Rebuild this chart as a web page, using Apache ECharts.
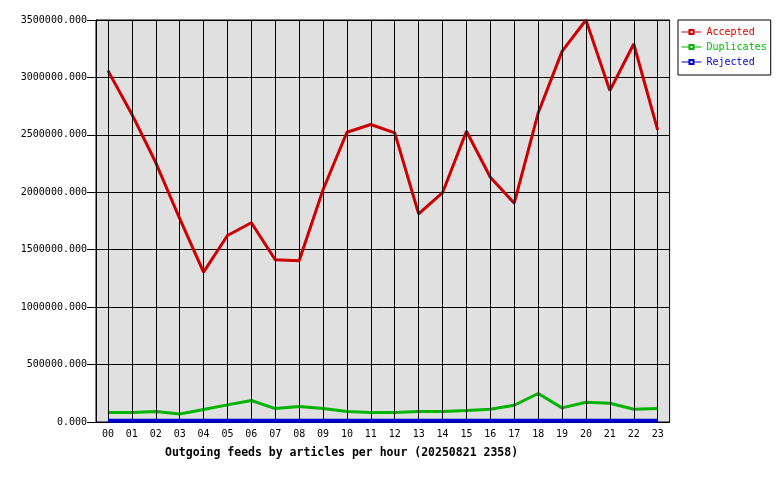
<!DOCTYPE html>
<html>
<head>
<meta charset="utf-8">
<script src="https://cdn.jsdelivr.net/npm/echarts@6/dist/echarts.min.js"></script>
<style>html,body{margin:0;padding:0;background:#fff}#c{width:780px;height:480px}</style>
</head>
<body>
<div id="c"></div>
<script>
const hours = ['00','01','02','03','04','05','06','07','08','09','10','11','12','13','14','15','16','17','18','19','20','21','22','23'];
const accepted = [3059000,2680000,2259000,1772000,1305000,1624000,1735000,1413000,1404000,2022000,2523000,2590000,2517000,1812000,1996000,2531000,2131000,1905000,2690000,3227000,3500000,2885000,3291000,2543000];
const duplicates = [83000,83000,91000,70000,109000,149000,187000,117000,135000,117000,91000,83000,83000,91000,91000,100000,111000,146000,248000,123000,172000,163000,111000,117000];
const rejected = [11000,11000,11000,11000,11000,11000,11000,11000,11000,11000,11000,11000,11000,11000,11000,11000,11000,11000,11000,11000,11000,11000,11000,11000];
const seriesNames = ['Accepted','Duplicates','Rejected'];
const yTicks = [0,500000,1000000,1500000,2000000,2500000,3000000,3500000];
const titleText = 'Outgoing feeds by articles per hour (20250821 2358)';

const mono = 'DejaVu Sans Mono';
const lineColors = ['#cc0000','#00b400','#0000cc'];
const textColors = ['#dd0000','#00bb00','#0000dd'];

const chart = echarts.init(document.getElementById('c'), null, {renderer:'canvas'});
function mk(name, data, i){
  return {
    name, type:'line', data, clip:false, z:3 + i,
    symbol:'emptyRect', symbolSize:4, showSymbol:false,
    lineStyle:{color:lineColors[i], width:i===2?4:3},
    itemStyle:{color:lineColors[i]},
    emphasis:{disabled:true}, animation:false
  };
}
const gridLineSeries = {
  name:'grid', type:'line', data:[], z:1, silent:true, animation:false,
  markLine:{
    silent:true, symbol:['none','none'], animation:false,
    label:{show:false},
    lineStyle:{color:'#000', width:1, type:'solid'},
    emphasis:{disabled:true},
    data: hours.map(h=>({xAxis:h}))
  }
};
chart.setOption({
  animation:false,
  title:{
    text:titleText, left:165, top:447, padding:0,
    textStyle:{fontFamily:mono, fontWeight:'bold', fontSize:11.5, color:'#000'}
  },
  legend:{
    orient:'vertical', left:678, top:20,
    padding:[6,4,7,3], itemGap:3, itemWidth:20, itemHeight:5, itemTextGap:3,
    backgroundColor:'#fff', borderColor:'#000', borderWidth:1, borderRadius:0,
    data: seriesNames.map((n,i)=>({name:n, textStyle:{color:textColors[i]}})),
    lineStyle:{width:1},
    itemStyle:{borderWidth:1},
    textStyle:{fontFamily:mono, fontSize:10, lineHeight:12},
    selectedMode:false
  },
  grid:{
    left:96, right:110.4, top:20, bottom:58, containLabel:false, outerBoundsMode:'none',
    show:true, backgroundColor:'#e0e0e0', borderColor:'#000', borderWidth:1
  },
  xAxis:{
    type:'category', data:hours, boundaryGap:true, z:0,
    axisLine:{show:true, lineStyle:{color:'#000', width:1}},
    axisTick:{show:false},
    splitLine:{show:false},
    axisLabel:{fontFamily:mono, fontSize:10, color:'#000', margin:7, interval:0}
  },
  yAxis:{
    type:'value', min:yTicks[0], max:yTicks[yTicks.length-1], interval:yTicks[1]-yTicks[0], z:0,
    axisLine:{show:true, lineStyle:{color:'#000', width:1}},
    axisTick:{show:true, length:9, lineStyle:{color:'#000'}},
    splitLine:{show:true, lineStyle:{color:'#000', width:1}},
    axisLabel:{fontFamily:mono, fontSize:10, color:'#000', margin:9, formatter:v=>v.toFixed(3)}
  },
  series:[gridLineSeries, mk(seriesNames[0],accepted,0), mk(seriesNames[1],duplicates,1), mk(seriesNames[2],rejected,2)]
});
</script>
</body>
</html>
